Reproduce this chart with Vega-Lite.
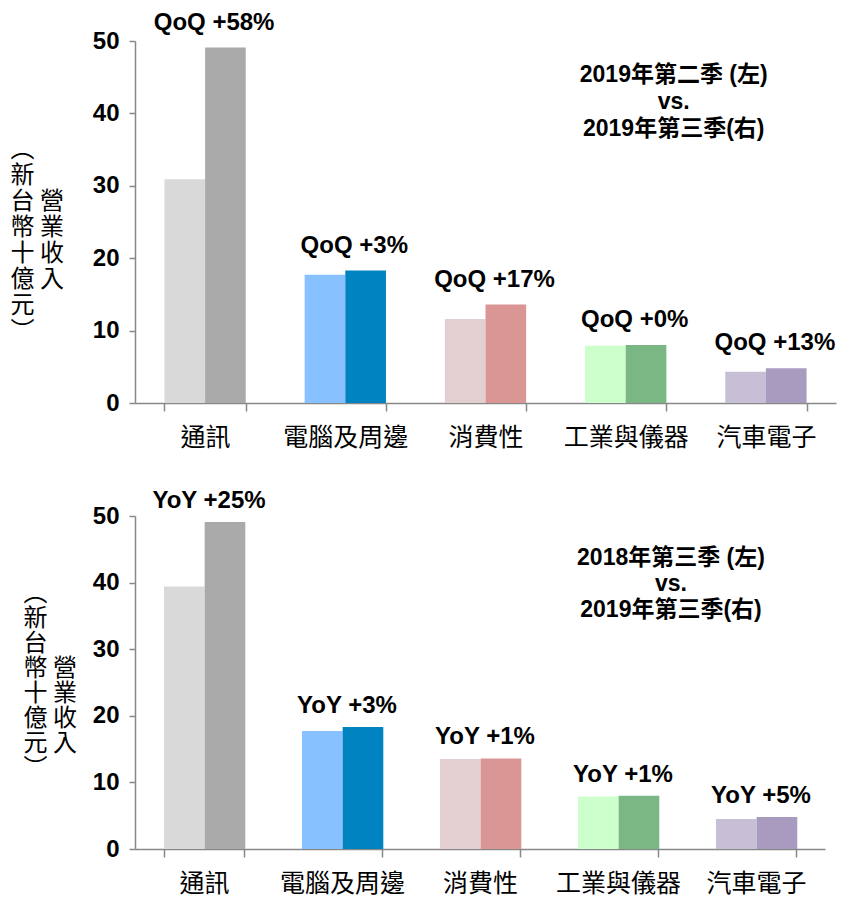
{
  "$schema": "https://vega.github.io/schema/vega-lite/v6.json",
  "background": "white",
  "padding": {"left": 10, "top": 10, "right": 5, "bottom": 5},
  "bounds": "flush",
  "spacing": 113,
  "config": {
    "view": {"stroke": null},
    "axis": {
      "domainColor": "#888888",
      "domainWidth": 1.5,
      "tickColor": "#888888",
      "tickWidth": 1.5,
      "grid": false,
      "labelColor": "#000000"
    }
  },
  "vconcat": [
    {
      "width": 701,
      "height": 362,
      "data": {"values": [
        {"category": "通訊", "period": "左", "series": "通訊左", "value": 30.9, "label": "QoQ +58%"},
        {"category": "通訊", "period": "右", "series": "通訊右", "value": 49.1, "label": "QoQ +58%"},
        {"category": "電腦及周邊", "period": "左", "series": "電腦及周邊左", "value": 17.7, "label": "QoQ +3%"},
        {"category": "電腦及周邊", "period": "右", "series": "電腦及周邊右", "value": 18.3, "label": "QoQ +3%"},
        {"category": "消費性", "period": "左", "series": "消費性左", "value": 11.6, "label": "QoQ +17%"},
        {"category": "消費性", "period": "右", "series": "消費性右", "value": 13.6, "label": "QoQ +17%"},
        {"category": "工業與儀器", "period": "左", "series": "工業與儀器左", "value": 7.9, "label": "QoQ +0%"},
        {"category": "工業與儀器", "period": "右", "series": "工業與儀器右", "value": 8.0, "label": "QoQ +0%"},
        {"category": "汽車電子", "period": "左", "series": "汽車電子左", "value": 4.3, "label": "QoQ +13%"},
        {"category": "汽車電子", "period": "右", "series": "汽車電子右", "value": 4.8, "label": "QoQ +13%"}
      ]},
      "layer": [
        {
          "mark": {"type": "bar"},
          "encoding": {
            "x": {
              "field": "category", "type": "nominal", "title": null,
              "sort": ["通訊", "電腦及周邊", "消費性", "工業與儀器", "汽車電子"],
              "scale": {"paddingInner": 0.42, "paddingOuter": 0.21},
              "axis": {
                "labelAngle": 0, "labelFont": "Noto Sans CJK TC", "labelFontSize": 25,
                "labelPadding": 14, "tickSize": 8, "tickBand": "extent"
              }
            },
            "xOffset": {"field": "period", "type": "nominal", "sort": ["左", "右"], "scale": {"paddingInner": 0, "paddingOuter": 0}},
            "y": {
              "field": "value", "type": "quantitative",
              "scale": {"domain": [0, 50], "nice": false},
              "axis": {
                "values": [0, 10, 20, 30, 40, 50],
                "labelFont": "Liberation Sans", "labelFontSize": 24, "labelFontWeight": "bold",
                "tickSize": 6, "labelPadding": 10,
                "title": ["︵", "新", "台 營", "幣 業", "十 收", "億 入", "元", "︶"],
                "titleAngle": 0, "titleAlign": "left", "titleBaseline": "top",
                "titleX": -125, "titleY": 96,
                "titleFont": "Noto Sans CJK TC", "titleFontSize": 24, "titleFontWeight": "normal",
                "titleLineHeight": 26, "titleColor": "#000000"
              }
            },
            "color": {
              "field": "series", "type": "nominal", "legend": null,
              "scale": {
                "domain": ["通訊左", "通訊右", "電腦及周邊左", "電腦及周邊右", "消費性左", "消費性右", "工業與儀器左", "工業與儀器右", "汽車電子左", "汽車電子右"],
                "range": ["#D9D9D9", "#AAAAAA", "#87C1FF", "#0083C1", "#E3CFD1", "#DA9694", "#CCFFCC", "#7AB785", "#C7BFD5", "#A99AC0"]
              }
            }
          }
        },
        {
          "transform": [{"aggregate": [{"op": "max", "field": "value", "as": "value"}], "groupby": ["category", "label"]}],
          "mark": {"type": "text", "font": "Liberation Sans", "fontSize": 24, "fontWeight": "bold", "color": "#000000", "baseline": "middle", "dy": -25, "dx": 9},
          "encoding": {
            "x": {"field": "category", "type": "nominal", "title": null, "sort": ["通訊", "電腦及周邊", "消費性", "工業與儀器", "汽車電子"]},
            "y": {"field": "value", "type": "quantitative"},
            "text": {"field": "label"}
          }
        },
        {
          "data": {"values": [{"note": "2019年第二季 (左)\nvs.\n2019年第三季(右)"}]},
          "mark": {"type": "text", "font": "Liberation Sans, Noto Sans CJK TC", "fontSize": 23, "fontWeight": "bold", "color": "#000000", "align": "center", "baseline": "middle", "lineBreak": "\n", "lineHeight": 27, "dx": 48},
          "encoding": {
            "x": {"datum": "工業與儀器", "type": "nominal"},
            "y": {"datum": 45.3, "type": "quantitative"},
            "text": {"field": "note"}
          }
        }
      ]
    },
    {
      "width": 690,
      "height": 333,
      "data": {"values": [
        {"category": "通訊", "period": "左", "series": "通訊左", "value": 39.4, "label": "YoY +25%"},
        {"category": "通訊", "period": "右", "series": "通訊右", "value": 49.1, "label": "YoY +25%"},
        {"category": "電腦及周邊", "period": "左", "series": "電腦及周邊左", "value": 17.7, "label": "YoY +3%"},
        {"category": "電腦及周邊", "period": "右", "series": "電腦及周邊右", "value": 18.3, "label": "YoY +3%"},
        {"category": "消費性", "period": "左", "series": "消費性左", "value": 13.5, "label": "YoY +1%"},
        {"category": "消費性", "period": "右", "series": "消費性右", "value": 13.6, "label": "YoY +1%"},
        {"category": "工業與儀器", "period": "左", "series": "工業與儀器左", "value": 7.9, "label": "YoY +1%"},
        {"category": "工業與儀器", "period": "右", "series": "工業與儀器右", "value": 8.0, "label": "YoY +1%"},
        {"category": "汽車電子", "period": "左", "series": "汽車電子左", "value": 4.5, "label": "YoY +5%"},
        {"category": "汽車電子", "period": "右", "series": "汽車電子右", "value": 4.8, "label": "YoY +5%"}
      ]},
      "layer": [
        {
          "mark": {"type": "bar"},
          "encoding": {
            "x": {
              "field": "category", "type": "nominal", "title": null,
              "sort": ["通訊", "電腦及周邊", "消費性", "工業與儀器", "汽車電子"],
              "scale": {"paddingInner": 0.42, "paddingOuter": 0.21},
              "axis": {
                "labelAngle": 0, "labelFont": "Noto Sans CJK TC", "labelFontSize": 25,
                "labelPadding": 14, "tickSize": 8, "tickBand": "extent"
              }
            },
            "xOffset": {"field": "period", "type": "nominal", "sort": ["左", "右"], "scale": {"paddingInner": 0, "paddingOuter": 0}},
            "y": {
              "field": "value", "type": "quantitative",
              "scale": {"domain": [0, 50], "nice": false},
              "axis": {
                "values": [0, 10, 20, 30, 40, 50],
                "labelFont": "Liberation Sans", "labelFontSize": 24, "labelFontWeight": "bold",
                "tickSize": 6, "labelPadding": 10,
                "title": ["︵", "新", "台", "幣 營", "十 業", "億 收", "元 入", "︶"],
                "titleAngle": 0, "titleAlign": "left", "titleBaseline": "top",
                "titleX": -112, "titleY": 65,
                "titleFont": "Noto Sans CJK TC", "titleFontSize": 24, "titleFontWeight": "normal",
                "titleLineHeight": 25, "titleColor": "#000000"
              }
            },
            "color": {
              "field": "series", "type": "nominal", "legend": null,
              "scale": {
                "domain": ["通訊左", "通訊右", "電腦及周邊左", "電腦及周邊右", "消費性左", "消費性右", "工業與儀器左", "工業與儀器右", "汽車電子左", "汽車電子右"],
                "range": ["#D9D9D9", "#AAAAAA", "#87C1FF", "#0083C1", "#E3CFD1", "#DA9694", "#CCFFCC", "#7AB785", "#C7BFD5", "#A99AC0"]
              }
            }
          }
        },
        {
          "transform": [{"aggregate": [{"op": "max", "field": "value", "as": "value"}], "groupby": ["category", "label"]}],
          "mark": {"type": "text", "font": "Liberation Sans", "fontSize": 24, "fontWeight": "bold", "color": "#000000", "baseline": "middle", "dy": -21, "dx": 5},
          "encoding": {
            "x": {"field": "category", "type": "nominal", "title": null, "sort": ["通訊", "電腦及周邊", "消費性", "工業與儀器", "汽車電子"]},
            "y": {"field": "value", "type": "quantitative"},
            "text": {"field": "label"}
          }
        },
        {
          "data": {"values": [{"note": "2018年第三季 (左)\nvs.\n2019年第三季(右)"}]},
          "mark": {"type": "text", "font": "Liberation Sans, Noto Sans CJK TC", "fontSize": 23, "fontWeight": "bold", "color": "#000000", "align": "center", "baseline": "middle", "lineBreak": "\n", "lineHeight": 26, "dx": 53},
          "encoding": {
            "x": {"datum": "工業與儀器", "type": "nominal"},
            "y": {"datum": 43.7, "type": "quantitative"},
            "text": {"field": "note"}
          }
        }
      ]
    }
  ]
}
